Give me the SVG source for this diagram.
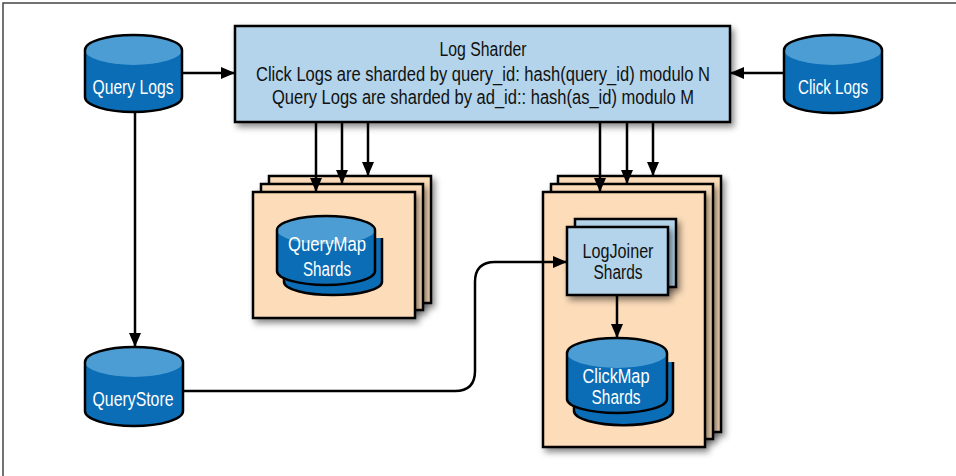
<svg xmlns="http://www.w3.org/2000/svg" width="956" height="476" viewBox="0 0 956 476">
<style>
.box{fill:#b3d4ea;stroke:#000;stroke-width:2.5}
.page{fill:#fcdcb9;stroke:#000;stroke-width:2.5}
.cylbody{fill:#0a6db5}
.cyltop{fill:#4c9dd3}
.cylline{fill:none;stroke:#000;stroke-width:2.5}
.lbl{font-family:"Liberation Sans",Arial,sans-serif;font-size:20px;text-anchor:middle}
.w{fill:#fff}
.k{fill:#111}
.conn{fill:none;stroke:#000;stroke-width:2.5}
</style>
<defs>
<filter id="sh" x="-10%" y="-10%" width="130%" height="130%">
<feDropShadow dx="3" dy="4" stdDeviation="3" flood-color="#000" flood-opacity="0.45"/>
</filter>
<marker id="ah" viewBox="0 0 14 12" markerUnits="userSpaceOnUse" markerWidth="14" markerHeight="12" refX="14" refY="6" orient="auto">
<path d="M0,0 L14,6 L0,12 Z" fill="#000"/>
</marker>
</defs>
<rect x="0" y="0" width="956" height="476" fill="#fff"/>
<rect x="3" y="3" width="970" height="490" fill="none" stroke="#444" stroke-width="1.5"/>

<g id="log-sharder">
<rect class="box" x="235" y="26" width="495" height="96" filter="url(#sh)"/>
<text class="lbl k" x="483" y="56" textLength="87" lengthAdjust="spacingAndGlyphs">Log Sharder</text>
<text class="lbl k" x="483" y="81" textLength="454" lengthAdjust="spacingAndGlyphs">Click Logs are sharded by query_id: hash(query_id) modulo N</text>
<text class="lbl k" x="483" y="104" textLength="422" lengthAdjust="spacingAndGlyphs">Query Logs are sharded by ad_id:: hash(as_id) modulo M</text>
</g>

<g id="query-logs">
<path class="cylbody" d="M85,50 V97 A48.5,15 0 0 0 182,97 V50 Z"/>
<ellipse class="cyltop" cx="133.5" cy="50" rx="48.5" ry="15"/>
<path class="cylline" d="M85,50 A48.5,15 0 0 1 182,50 V97 A48.5,15 0 0 1 85,97 Z"/>
<text class="lbl w" x="133" y="94" textLength="81" lengthAdjust="spacingAndGlyphs">Query Logs</text>
</g>

<g id="click-logs">
<path class="cylbody" d="M784,50 V98 A49,15 0 0 0 882,98 V50 Z"/>
<ellipse class="cyltop" cx="833" cy="50" rx="49" ry="15"/>
<path class="cylline" d="M784,50 A49,15 0 0 1 882,50 V98 A49,15 0 0 1 784,98 Z"/>
<text class="lbl w" x="833" y="94" textLength="70" lengthAdjust="spacingAndGlyphs">Click Logs</text>
</g>

<g id="query-store">
<path class="cylbody" d="M85,362 V411 A49,15 0 0 0 183,411 V362 Z"/>
<ellipse class="cyltop" cx="134" cy="362" rx="49" ry="15"/>
<path class="cylline" d="M85,362 A49,15 0 0 1 183,362 V411 A49,15 0 0 1 85,411 Z"/>
<text class="lbl w" x="133" y="406" textLength="81" lengthAdjust="spacingAndGlyphs">QueryStore</text>
</g>

<g id="querymap-shards">
<rect class="page" x="269" y="176" width="162" height="127" filter="url(#sh)"/>
<rect class="page" x="261" y="184" width="162" height="126" filter="url(#sh)"/>
<rect class="page" x="253" y="192" width="162" height="126" filter="url(#sh)"/>
<g>
<path class="cylbody" d="M284,238 V282 A49,13 0 0 0 382,282 V238 Z"/>
<path class="cylline" d="M284,238 V282 A49,13 0 0 0 382,282 V238"/>
</g>
<path class="cylbody" d="M277,230 V271 A49,14 0 0 0 375,271 V230 Z"/>
<ellipse class="cyltop" cx="326" cy="230" rx="49" ry="14"/>
<path class="cylline" d="M277,230 A49,14 0 0 1 375,230 V271 A49,14 0 0 1 277,271 Z"/>
<text class="lbl w" x="327" y="251" textLength="78" lengthAdjust="spacingAndGlyphs">QueryMap</text>
<text class="lbl w" x="327" y="276" textLength="48" lengthAdjust="spacingAndGlyphs">Shards</text>
</g>

<g id="logjoiner-stack">
<rect class="page" x="558" y="176" width="163" height="256" filter="url(#sh)"/>
<rect class="page" x="551" y="184" width="162" height="255" filter="url(#sh)"/>
<rect class="page" x="543" y="192" width="162" height="255" filter="url(#sh)"/>
</g>

<g id="logjoiner-shards">
<rect class="box" x="575" y="219" width="101" height="68" filter="url(#sh)"/>
<rect class="box" x="567" y="227" width="101" height="68" filter="url(#sh)"/>
<text class="lbl k" x="618" y="258" textLength="71" lengthAdjust="spacingAndGlyphs">LogJoiner</text>
<text class="lbl k" x="618" y="279" textLength="49" lengthAdjust="spacingAndGlyphs">Shards</text>
</g>

<g id="clickmap-shards">
<g>
<path class="cylbody" d="M574,362 V411 A49,14 0 0 0 673,411 V362 Z"/>
<path class="cylline" d="M574,362 V411 A49,14 0 0 0 673,411 V362"/>
</g>
<path class="cylbody" d="M567,353 V399 A50,14 0 0 0 667,399 V353 Z"/>
<ellipse class="cyltop" cx="617" cy="353" rx="50" ry="15"/>
<path class="cylline" d="M567,353 A50,15 0 0 1 667,353 V399 A50,14 0 0 1 567,399 Z"/>
<text class="lbl w" x="616" y="383" textLength="67" lengthAdjust="spacingAndGlyphs">ClickMap</text>
<text class="lbl w" x="616" y="404" textLength="49" lengthAdjust="spacingAndGlyphs">Shards</text>
</g>

<g id="connectors">
<line class="conn" x1="182" y1="73" x2="235" y2="73" marker-end="url(#ah)"/>
<line class="conn" x1="784" y1="73" x2="730" y2="73" marker-end="url(#ah)"/>
<line class="conn" x1="135" y1="112" x2="135" y2="347" marker-end="url(#ah)"/>
<line class="conn" x1="316" y1="122" x2="316" y2="192" marker-end="url(#ah)"/>
<line class="conn" x1="342" y1="122" x2="342" y2="184" marker-end="url(#ah)"/>
<line class="conn" x1="368" y1="122" x2="368" y2="176" marker-end="url(#ah)"/>
<line class="conn" x1="600" y1="122" x2="600" y2="192" marker-end="url(#ah)"/>
<line class="conn" x1="627" y1="122" x2="627" y2="184" marker-end="url(#ah)"/>
<line class="conn" x1="653" y1="122" x2="653" y2="176" marker-end="url(#ah)"/>
<path class="conn" d="M183,391 H455 Q475,391 475,371 V282 Q475,262 495,262 H567" marker-end="url(#ah)"/>
<line class="conn" x1="617" y1="295" x2="617" y2="338" marker-end="url(#ah)"/>
</g>
</svg>
